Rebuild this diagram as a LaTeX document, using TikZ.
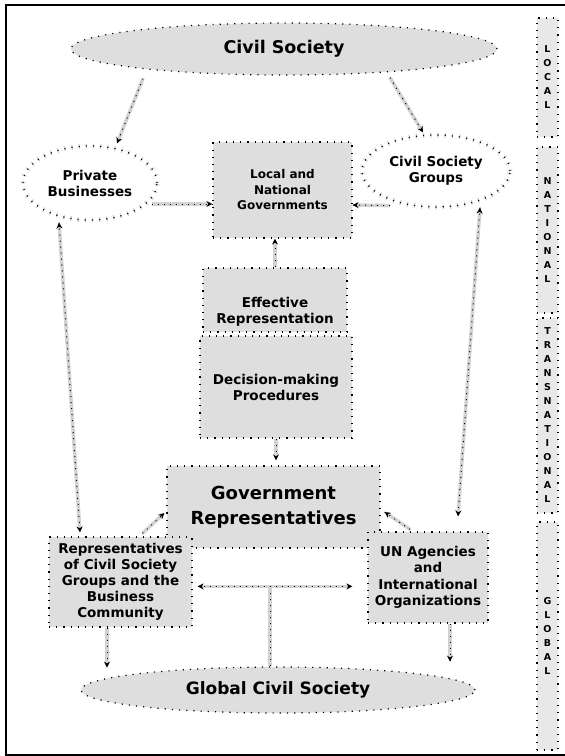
\documentclass[tikz,border=0pt]{standalone}
\usepackage{fontspec}
\setmainfont{DejaVu Sans}
\usetikzlibrary{shapes.geometric,arrows.meta,calc}
\definecolor{boxgray}{HTML}{DEDEDE}
\definecolor{linegray}{HTML}{D2D2D2}
\definecolor{bargray}{HTML}{E8E8E8}
\begin{document}
\begin{tikzpicture}[x=1pt,y=-1pt,
  >={Stealth[color=black,length=6pt,width=6pt]},
  dotline/.style={draw=black, line width=1.2pt, dash pattern=on 1.2pt off 6pt},
  smallfont/.style={font=\bfseries\fontsize{13.5}{16}\selectfont},
  bigfont/.style={font=\bfseries\fontsize{18}{25}\selectfont},
  box/.style={rectangle, fill=boxgray, dotline, inner sep=0pt, align=center, smallfont},
  txt/.style={inner sep=0pt, align=center, smallfont},
  bigell/.style={ellipse, fill=boxgray, dotline, inner sep=0pt, align=center},
  oval/.style={ellipse, inner sep=0pt, align=center, smallfont,
    preaction={fill=white, draw=linegray, line width=5pt}, dotline},
  bar/.style={rectangle, fill=bargray, dotline, inner sep=0pt, minimum width=21pt,
    align=center, font=\bfseries\fontsize{9.5}{14}\selectfont},
  conn/.style={draw=linegray, line width=3.5pt,
    postaction={draw=black, line width=1pt, dash pattern=on 1pt off 5pt, -}}
]
\useasboundingbox (0,0) rectangle (565,756);
\draw[line width=2.6pt] (6,5) rectangle (575,755);

% top level
\node[bigell, minimum width=426pt, minimum height=52pt,
      font=\bfseries\fontsize{17.5}{20}\selectfont] (cs) at (284,49) {Civil Society};
\node[oval, minimum width=134pt, minimum height=74pt] (pb) at (90,183) {Private\\Businesses};
\node[oval, minimum width=148pt, minimum height=72pt] (csg) at (436,171) {Civil Society\\Groups};
\node[box, minimum width=139pt, minimum height=96pt,
      font=\bfseries\fontsize{12}{15.5}\selectfont] (lng) at (282.5,190) {Local and\\National\\Governments};

% middle
\node[box, minimum width=144pt, minimum height=64pt] (eff) at (275,300) {};
\node[txt] (efft) at (275,312) {Effective\\Representation};
\node[box, minimum width=152pt, minimum height=102pt] (dmp) at (276,387) {Decision-making\\Procedures};
\node[box, bigfont, minimum width=213pt, minimum height=82pt] (gov) at (273.5,507) {Government\\Representatives};

% lower
\node[box, minimum width=143pt, minimum height=90pt] (reps) at (120.5,582)
  {Representatives\\of Civil Society\\Groups and the\\Business\\Community};
\node[box, minimum width=120pt, minimum height=91pt, font=\bfseries\fontsize{13.5}{16.5}\selectfont] (un) at (428,577.5)
  {UN Agencies\\and\\International\\Organizations};
\node[bigell, minimum width=394pt, minimum height=46pt,
      font=\bfseries\fontsize{17}{20}\selectfont] (gcs) at (278,690) {Global Civil Society};

% level bars
\node[bar, minimum height=119pt] (lv1) at (547.5,77.5) {L\\O\\C\\A\\L};
\node[bar, minimum height=166pt] (lv2) at (547.5,230) {N\\A\\T\\I\\O\\N\\A\\L};
\node[bar, minimum height=195pt] (lv3) at (547.5,415.5) {T\\R\\A\\N\\S\\N\\A\\T\\I\\O\\N\\A\\L};
\node[bar, minimum height=228pt] (lv4) at (547.5,636) {G\\L\\O\\B\\A\\L};

% connectors
\draw[conn,->] ($(cs.south)+(-141,3)$) -- ($(pb.north)+(27,-2)$);
\draw[conn,->] ($(cs.south)+(106,2)$) -- ($(csg.north)+(-13,-2)$);
\draw[conn,->] ($(pb.east)+(-6,21)$) -- ($(lng.west)+(0,14)$);
\draw[conn,->] ($(csg.south)+(-46,-2)$) -- ($(lng.east)+(0,15)$);
\draw[conn,->] (eff.north) -- (eff.north |- lng.south);
\draw[conn,->,shorten >=5pt] (dmp.south) -- (dmp.south |- gov.north);
\draw[conn,<->] ($(pb.south)+(-31,2)$) -- ($(reps.north)+(-40.5,-4)$);
\draw[conn,<->] ($(csg.south)+(44,0)$) -- ($(un.north)+(30,-15)$);
\draw[conn,->] ($(reps.north)+(22,-3)$) -- ($(gov.west)+(-2,6)$);
\draw[conn,->] ($(un.north)+(-18,-2)$) -- ($(gov.east)+(4,5)$);
\coordinate (tj) at ($(gcs.north)+(-8,-80)$);
\draw[conn] ($(gcs.north)+(-8,0)$) -- (tj);
\draw[conn,<->] ($(reps.east |- tj)+(5,0)$) -- ($(un.west |- tj)+(-15,0)$);
\draw[conn,->] ($(reps.south)+(-13.5,0)$) -- ++(0,40);
\draw[conn,->] ($(un.south)+(22,0)$) -- ++(0,38);
\end{tikzpicture}
\end{document}
